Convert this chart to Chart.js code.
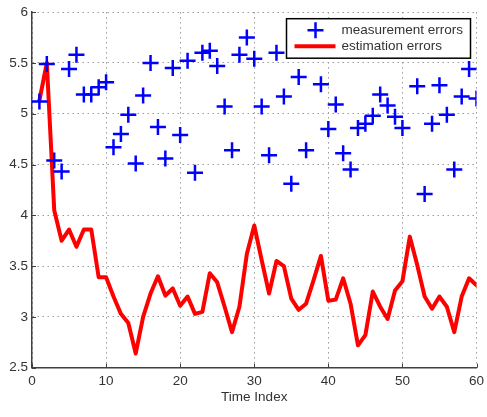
<!DOCTYPE html>
<html>
<head>
<meta charset="utf-8">
<title>Measurement vs estimation errors</title>
<script src="https://cdn.jsdelivr.net/npm/chart.js@4/dist/chart.umd.min.js"></script>
<style>
  html, body { margin: 0; padding: 0; background: #fff; }
  .chart { width: 487px; height: 417px; }
</style>
</head>
<body>
<div class="chart"><canvas id="errChart"></canvas></div>
<script>
// time steps 1..60
const timeIndex = [1, 2, 3, 4, 5, 6, 7, 8, 9, 10, 11, 12, 13, 14, 15, 16, 17, 18, 19, 20,
  21, 22, 23, 24, 25, 26, 27, 28, 29, 30, 31, 32, 33, 34, 35, 36, 37, 38, 39, 40,
  41, 42, 43, 44, 45, 46, 47, 48, 49, 50, 51, 52, 53, 54, 55, 56, 57, 58, 59, 60];

// blue crosses (38 and 51 sit under the legend box, not readable)
const measurementErrors = [5.12, 5.49, 4.54, 4.43, 5.44, 5.58, 5.19, 5.19, 5.26, 5.31,
  4.67, 4.80, 4.99, 4.51, 5.18, 5.50, 4.87, 4.56, 5.45, 4.79,
  5.52, 4.42, 5.60, 5.62, 5.47, 5.07, 4.64, 5.58, 5.75, 5.54,
  5.07, 4.59, 5.60, 5.17, 4.31, 5.36, 4.64, null, 5.29, 4.85,
  5.09, 4.61, 4.45, 4.86, 4.90, 4.98, 5.19, 5.08, 4.97, 4.86,
  null, 5.27, 4.21, 4.90, 5.28, 4.99, 4.45, 5.17, 5.44, 5.15];

// red line
const estimationErrors = [5.13, 5.50, 4.05, 3.75, 3.86, 3.69, 3.86, 3.86, 3.39, 3.39,
  3.20, 3.03, 2.94, 2.64, 3.00, 3.23, 3.40, 3.21, 3.28, 3.11,
  3.20, 3.03, 3.05, 3.43, 3.34, 3.10, 2.85, 3.10, 3.62, 3.90,
  3.56, 3.23, 3.55, 3.50, 3.18, 3.07, 3.13, 3.36, 3.60, 3.16,
  3.17, 3.38, 3.13, 2.72, 2.82, 3.25, 3.10, 2.98, 3.26, 3.35,
  3.79, 3.51, 3.20, 3.08, 3.20, 3.10, 2.85, 3.20, 3.38, 3.31];

const seriesNames = ['measurement errors', 'estimation errors'];
const xTitle = 'Time Index';
// y tick labels as printed (no trailing .0)
const yTickLabels = ['2.5', '3', '3.5', '4', '4.5', '5', '5.5', '6'];

const FONT = '"Liberation Sans", Arial, Helvetica, sans-serif';
const TEXT = '#333333';
const AXIS = '#404040';

// MATLAB style: inward ticks + legend box inside the axes
const matlabLook = {
  id: 'matlabLook',
  afterDraw(chart) {
    const { ctx, chartArea: area, scales: { x, y } } = chart;
    ctx.save();

    ctx.strokeStyle = AXIS;
    ctx.lineWidth = 1;
    x.ticks.forEach(t => {
      const px = Math.round(x.getPixelForValue(t.value)) + 0.5;
      ctx.beginPath();
      ctx.moveTo(px, area.bottom);
      ctx.lineTo(px, area.bottom - 4);
      ctx.stroke();
    });
    y.ticks.forEach(t => {
      const py = Math.round(y.getPixelForValue(t.value)) + 0.5;
      ctx.beginPath();
      ctx.moveTo(area.left, py);
      ctx.lineTo(area.left + 4, py);
      ctx.stroke();
    });

    // legend
    const bx = area.right - 190, by = area.top + 6.6, bw = 184, bh = 39.5;
    ctx.fillStyle = '#fff';
    ctx.fillRect(bx, by, bw, bh);
    ctx.strokeStyle = '#000';
    ctx.lineWidth = 1.5;
    ctx.strokeRect(bx, by, bw, bh);

    const sx = bx + 29;
    ctx.strokeStyle = '#0000ff';
    ctx.lineWidth = 2.5;
    ctx.beginPath();
    ctx.moveTo(sx - 8, by + 11.5);
    ctx.lineTo(sx + 8, by + 11.5);
    ctx.moveTo(sx, by + 3.5);
    ctx.lineTo(sx, by + 19.5);
    ctx.stroke();

    ctx.strokeStyle = '#ff0000';
    ctx.lineWidth = 4;
    ctx.beginPath();
    ctx.moveTo(bx + 8, by + 27.5);
    ctx.lineTo(bx + 49, by + 27.5);
    ctx.stroke();

    ctx.fillStyle = TEXT;
    ctx.font = '13.5px ' + FONT;
    ctx.textBaseline = 'middle';
    ctx.fillText(seriesNames[0], bx + 55, by + 12);
    ctx.fillText(seriesNames[1], bx + 55, by + 28);

    ctx.restore();
  }
};

const ctx = document.getElementById('errChart').getContext('2d');

const errChart = new Chart(ctx, {
  type: 'line',
  data: {
    datasets: [{
      label: seriesNames[0],
      data: timeIndex.map((t, i) => ({ x: t, y: measurementErrors[i] })),
      showLine: false,
      pointStyle: 'cross',
      pointRadius: 8,
      pointBorderWidth: 2.5,
      pointBorderColor: '#0000ff',
      pointBackgroundColor: '#0000ff'
    },
    {
      label: seriesNames[1],
      data: timeIndex.map((t, i) => ({ x: t, y: estimationErrors[i] })),
      borderColor: '#ff0000',
      borderWidth: 4,
      borderJoinStyle: 'round',
      borderCapStyle: 'round',
      pointRadius: 0,
      tension: 0,
      fill: false
    }]
  },
  options: {
    responsive: true,
    maintainAspectRatio: false,
    animation: false,
    layout: {
      padding: { left: 0, right: 3, top: 10.7, bottom: 0 }
    },
    scales: {
      x: {
        type: 'linear',
        min: 0,
        max: 60,
        ticks: {
          stepSize: 10,
          color: TEXT,
          padding: 5,
          font: { family: FONT, size: 13.5 }
        },
        grid: { color: '#9a9a9a', lineWidth: 1, drawTicks: false },
        border: { display: true, color: AXIS, width: 1.5, dash: [1.5, 3.5] },
        title: {
          display: true,
          text: xTitle,
          color: TEXT,
          font: { family: FONT, size: 13.5 },
          padding: { top: 0, bottom: 12 }
        },
        afterFit(scale) {
          scale.height = 49.3;
          scale.paddingLeft = 0;
          scale.paddingRight = 0;
        }
      },
      y: {
        min: 2.5,
        max: 6,
        ticks: {
          stepSize: 0.5,
          color: TEXT,
          padding: 4,
          font: { family: FONT, size: 13.5 },
          callback: (value, index) => yTickLabels[index]
        },
        grid: { color: '#9a9a9a', lineWidth: 1, drawTicks: false },
        border: { display: true, color: AXIS, width: 1.5, dash: [1.5, 3.5] },
        afterFit(scale) {
          scale.width = 32;
        }
      }
    },
    plugins: {
      legend: { display: false },
      tooltip: { enabled: false }
    }
  },
  plugins: [matlabLook]
});
</script>
</body>
</html>
